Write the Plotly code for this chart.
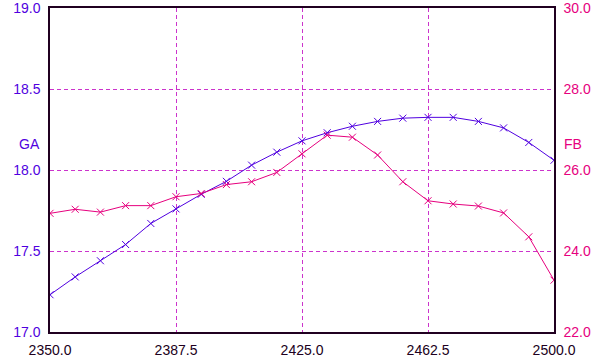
import plotly.graph_objects as go

freq = [2350 + 7.5 * i for i in range(21)]
ga = [17.23, 17.34, 17.44, 17.54, 17.67, 17.76, 17.85, 17.93, 18.03, 18.11, 18.18,
      18.23, 18.27, 18.30, 18.32, 18.325, 18.325, 18.30, 18.26, 18.17, 18.06]
fb = [24.93, 25.03, 24.96, 25.12, 25.12, 25.34, 25.42, 25.64, 25.71, 25.94, 26.40,
      26.86, 26.81, 26.37, 25.71, 25.24, 25.16, 25.11, 24.94, 24.35, 23.28]

x_ticks = [2350.0, 2387.5, 2425.0, 2462.5, 2500.0]
ga_ticks = [17.0, 17.5, 18.0, 18.5, 19.0]
fb_ticks = [22.0, 24.0, 26.0, 28.0, 30.0]

BLUE = "#5000E0"
MAG = "#E6007E"
GRID = "#CC33CC"
FRAME = "#200020"
FONT = "Liberation Sans, Arial, sans-serif"

fig = go.Figure()
fig.add_trace(go.Scatter(x=freq, y=ga, mode="lines+markers", name="GA",
                         line=dict(color=BLUE, width=1),
                         marker=dict(symbol="x-thin", size=7, line=dict(color=BLUE, width=1))))
fig.add_trace(go.Scatter(x=freq, y=fb, mode="lines+markers", name="FB", yaxis="y2",
                         line=dict(color=MAG, width=1),
                         marker=dict(symbol="x-thin", size=7, line=dict(color=MAG, width=1))))

fig.update_layout(
    width=599, height=360,
    margin=dict(l=50, r=45, t=8, b=28),
    paper_bgcolor="white", plot_bgcolor="white",
    showlegend=False,
    font=dict(family=FONT, size=14),
    xaxis=dict(range=[2350, 2500], tickvals=x_ticks,
               ticktext=[f"{v:.1f}" for v in x_ticks],
               showgrid=True, gridcolor=GRID, griddash="4px,3px", gridwidth=1,
               showline=True, linecolor=FRAME, linewidth=1.5, mirror=True,
               ticks="", ticklabelstandoff=4, zeroline=False, automargin=False,
               ticklabeloverflow="allow",
               tickfont=dict(color=FRAME, size=14)),
    yaxis=dict(range=[17, 19], tickvals=ga_ticks,
               ticktext=[f"{v:.1f}" for v in ga_ticks],
               showgrid=True, gridcolor=GRID, griddash="4px,3px", gridwidth=1,
               showline=True, linecolor=FRAME, linewidth=1.5,
               ticks="", ticklabelstandoff=5, zeroline=False, automargin=False,
               ticklabeloverflow="allow",
               tickfont=dict(color=BLUE, size=14)),
    yaxis2=dict(range=[22, 30], tickvals=fb_ticks, overlaying="y", side="right",
                ticktext=[f"{v:.1f}" for v in fb_ticks],
                showgrid=False,
                showline=True, linecolor=FRAME, linewidth=1.5,
                ticks="", ticklabelstandoff=5, zeroline=False, automargin=False,
                ticklabeloverflow="allow",
                tickfont=dict(color=MAG, size=14)),
)

fig.add_annotation(text="GA", xref="paper", yref="y", x=0, y=18.16, xshift=-8,
                   xanchor="right", yanchor="middle", showarrow=False,
                   font=dict(color=BLUE, size=14, family=FONT))
fig.add_annotation(text="FB", xref="paper", yref="y", x=1, y=18.16, xshift=8,
                   xanchor="left", yanchor="middle", showarrow=False,
                   font=dict(color=MAG, size=14, family=FONT))

fig.write_html("out.html")
